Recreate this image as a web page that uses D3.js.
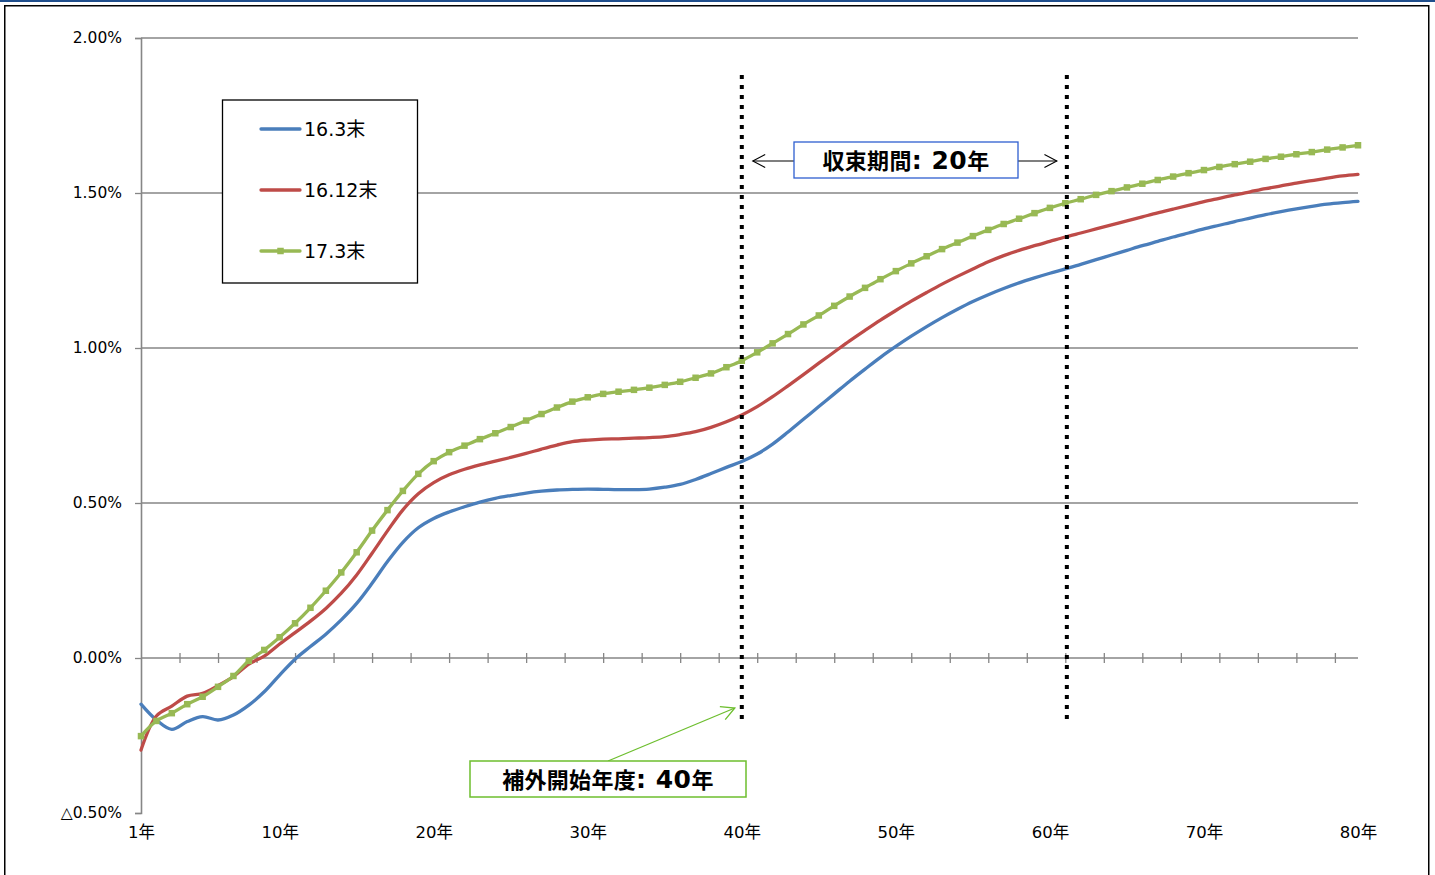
<!DOCTYPE html>
<html lang="ja">
<head>
<meta charset="utf-8">
<script src="https://cdn.jsdelivr.net/npm/d3@7"></script>
<style>
  html, body { margin: 0; padding: 0; background: #fff; }
  svg { display: block; }
</style>
</head>
<body>
<svg id="chart" width="1435" height="875"></svg>
<script>
// ---- data (percent) ----
const years = d3.range(1, 81);

const seriesNames = ["16.3末", "16.12末", "17.3末"];

const values163 = [
  -0.149, -0.200, -0.230, -0.205, -0.189, -0.200, -0.184, -0.152, -0.109, -0.055,
  -0.004, 0.037, 0.077, 0.123, 0.176, 0.241, 0.311, 0.373, 0.420, 0.450,
  0.471, 0.488, 0.503, 0.515, 0.524, 0.532, 0.538, 0.542, 0.544, 0.545,
  0.544, 0.543, 0.543, 0.545, 0.551, 0.560, 0.576, 0.595, 0.615, 0.634,
  0.658, 0.690, 0.729, 0.770, 0.811, 0.852, 0.893, 0.932, 0.970, 1.005,
  1.038, 1.069, 1.098, 1.125, 1.150, 1.172, 1.192, 1.210, 1.226, 1.241,
  1.255, 1.270, 1.285, 1.300, 1.315, 1.330, 1.344, 1.358, 1.371, 1.384,
  1.396, 1.408, 1.419, 1.430, 1.440, 1.449, 1.457, 1.464, 1.469, 1.473
];

const values1612 = [
  -0.297, -0.187, -0.155, -0.123, -0.114, -0.089, -0.060, -0.020, 0.006, 0.045,
  0.082, 0.119, 0.160, 0.209, 0.268, 0.338, 0.410, 0.478, 0.530, 0.566,
  0.591, 0.609, 0.623, 0.635, 0.647, 0.660, 0.674, 0.687, 0.698, 0.703,
  0.706, 0.707, 0.709, 0.711, 0.714, 0.721, 0.730, 0.744, 0.762, 0.784,
  0.811, 0.843, 0.878, 0.914, 0.951, 0.987, 1.023, 1.057, 1.090, 1.121,
  1.151, 1.179, 1.206, 1.231, 1.255, 1.278, 1.298, 1.315, 1.330, 1.344,
  1.358, 1.371, 1.384, 1.397, 1.410, 1.423, 1.436, 1.448, 1.460, 1.472,
  1.483, 1.494, 1.504, 1.514, 1.523, 1.532, 1.540, 1.548, 1.555, 1.560
];

const values173 = [
  -0.252, -0.203, -0.178, -0.149, -0.125, -0.093, -0.058, -0.009, 0.026, 0.067,
  0.112, 0.162, 0.217, 0.276, 0.341, 0.411, 0.477, 0.539, 0.594, 0.635,
  0.664, 0.685, 0.706, 0.725, 0.745, 0.766, 0.787, 0.808, 0.827, 0.841,
  0.852, 0.859, 0.865, 0.872, 0.881, 0.891, 0.904, 0.918, 0.938, 0.959,
  0.986, 1.015, 1.045, 1.076, 1.105, 1.136, 1.166, 1.194, 1.222, 1.248,
  1.273, 1.296, 1.319, 1.340, 1.361, 1.381, 1.400, 1.417, 1.435, 1.452,
  1.467, 1.480, 1.494, 1.506, 1.518, 1.530, 1.542, 1.553, 1.564, 1.574,
  1.584, 1.593, 1.601, 1.610, 1.617, 1.625, 1.632, 1.640, 1.647, 1.654
];

const seriesColors = ["#4A7EBB", "#BE4B48", "#98B954"];

const yTickValues = [-0.5, 0, 0.5, 1.0, 1.5, 2.0];
const yTickLabels = ["△0.50%", "0.00%", "0.50%", "1.00%", "1.50%", "2.00%"];
const gridValues = [0.5, 1.0, 1.5, 2.0];

const xLabelYears = [1, 10, 20, 30, 40, 50, 60, 70, 80];
const xLabelText = xLabelYears.map(n => n + "年");

// annotation years for the dotted markers
const extrapStartYear = 40;
const convergeEndYear = 61.1;
// label pieces: [text, isDigits]
const convergeLabel = [["収束期間", false], [": 20", true], ["年", false]];
const extrapLabel = [["補外開始年度", false], [": 40", true], ["年", false]];

// ---- layout ----
const svg = d3.select("#chart");
const plot = { left: 141, right: 1358, top: 38, bottom: 813 };
const x = d3.scaleLinear().domain([1, 80]).range([plot.left, plot.right]);
const y = d3.scaleLinear().domain([-0.5, 2.0]).range([plot.bottom, plot.top]);

const latinFont = "'DejaVu Sans', 'Noto Sans CJK JP', sans-serif";
const cjkFont = "'Noto Sans CJK JP', 'DejaVu Sans', sans-serif";
const axisGray = "#868686";

// top rule and outer frame
svg.append("rect").attr("x", 0).attr("y", 0).attr("width", 1435).attr("height", 2)
  .attr("fill", "#1F4E8C");
svg.append("rect").attr("x", 4.75).attr("y", 5.75).attr("width", 1424).attr("height", 900)
  .attr("fill", "none").attr("stroke", "#000").attr("stroke-width", 1.5);

// gridlines
svg.append("g").selectAll("line").data(gridValues).join("line")
  .attr("x1", plot.left).attr("x2", plot.right)
  .attr("y1", d => y(d)).attr("y2", d => y(d))
  .attr("stroke", axisGray).attr("stroke-width", 1.3);

// y axis
const yAxis = d3.axisLeft(y)
  .tickValues(yTickValues)
  .tickFormat((d, i) => yTickLabels[i])
  .tickSize(6).tickPadding(13);
const gy = svg.append("g").attr("transform", `translate(${plot.left},0)`).call(yAxis);
gy.select(".domain").attr("stroke", axisGray).attr("stroke-width", 1.6);
gy.selectAll(".tick line").attr("stroke", axisGray).attr("stroke-width", 1.3);
gy.selectAll(".tick text").attr("font-family", latinFont).attr("font-size", 15.5)
  .attr("fill", "#000");

// x axis line at zero with crossing tick marks
svg.append("line")
  .attr("x1", plot.left).attr("x2", plot.right)
  .attr("y1", y(0)).attr("y2", y(0))
  .attr("stroke", axisGray).attr("stroke-width", 1.6);
const minorTicks = d3.range(3.5, 80, 2.5);
const gxTicks = svg.append("g").attr("transform", `translate(0,${y(0) - 5})`)
  .call(d3.axisBottom(x).tickValues(minorTicks).tickSize(10).tickFormat(""));
gxTicks.select(".domain").remove();
gxTicks.selectAll(".tick line").attr("stroke", axisGray).attr("stroke-width", 1.3);

// x labels along the bottom
const gxLabels = svg.append("g").attr("transform", `translate(0,${plot.bottom})`)
  .call(d3.axisBottom(x).tickValues(xLabelYears)
    .tickFormat((d, i) => xLabelText[i]).tickSize(0).tickPadding(13));
gxLabels.select(".domain").remove();
gxLabels.selectAll(".tick text").attr("font-family", latinFont).attr("font-size", 16.5)
  .attr("fill", "#000");

// series
const series = [values163, values1612, values173].map((vals, i) => ({
  name: seriesNames[i],
  color: seriesColors[i],
  points: years.map((yr, j) => ({ year: yr, value: vals[j] }))
}));

const line = d3.line()
  .x(d => x(d.year))
  .y(d => y(d.value))
  .curve(d3.curveCatmullRom.alpha(0.5));

svg.append("g").selectAll("path").data(series).join("path")
  .attr("d", d => line(d.points))
  .attr("fill", "none")
  .attr("stroke", d => d.color)
  .attr("stroke-width", 3.3)
  .attr("stroke-linejoin", "round")
  .attr("stroke-linecap", "round");

// square markers on the 17.3末 series
const mk = 6.5;
svg.append("g").selectAll("rect").data(series[2].points).join("rect")
  .attr("x", d => x(d.year) - mk / 2)
  .attr("y", d => y(d.value) - mk / 2)
  .attr("width", mk).attr("height", mk)
  .attr("fill", seriesColors[2]);

// dotted vertical markers
const dotTop = 75, dotBottom = 725;
svg.append("g").selectAll("line").data([extrapStartYear, convergeEndYear]).join("line")
  .attr("x1", d => x(d)).attr("x2", d => x(d))
  .attr("y1", dotTop).attr("y2", dotBottom)
  .attr("stroke", "#000").attr("stroke-width", 4)
  .attr("stroke-dasharray", "4 6");

// open-headed arrow helper
function arrow(g, x1, y1, x2, y2, color, width, len) {
  g.append("line").attr("x1", x1).attr("y1", y1).attr("x2", x2).attr("y2", y2)
    .attr("stroke", color).attr("stroke-width", width);
  const ang = Math.atan2(y1 - y2, x1 - x2);
  const spread = Math.PI / 6.5;
  const p = [ang - spread, ang + spread].map(a => [x2 + len * Math.cos(a), y2 + len * Math.sin(a)]);
  g.append("path")
    .attr("d", `M${p[0][0]},${p[0][1]}L${x2},${y2}L${p[1][0]},${p[1][1]}`)
    .attr("fill", "none").attr("stroke", color).attr("stroke-width", width);
}

// bold label built from CJK and digit runs
function boldLabel(g, cx, cy, parts) {
  const t = g.append("text").attr("x", cx).attr("y", cy + 8.5)
    .attr("text-anchor", "middle").attr("font-weight", 700).attr("fill", "#000");
  parts.forEach(([str, digits]) => {
    t.append("tspan")
      .attr("font-family", digits ? latinFont : cjkFont)
      .attr("font-size", digits ? 25 : 22)
      .attr("letter-spacing", digits ? 0.5 : 0.3)
      .style("white-space", "pre")
      .text(str);
  });
}

// convergence period annotation
const ann = svg.append("g");
const boxL = 794, boxR = 1018, boxT = 142, boxB = 178;
const midY = (boxT + boxB) / 2 + 1;
arrow(ann, boxL, midY, x(extrapStartYear) + 11, midY, "#000", 1.1, 14);
arrow(ann, boxR, midY, x(convergeEndYear) - 10, midY, "#000", 1.1, 14);
ann.append("rect").attr("x", boxL).attr("y", boxT).attr("width", boxR - boxL).attr("height", boxB - boxT)
  .attr("fill", "#fff").attr("stroke", "#2E5FD0").attr("stroke-width", 1.3);
boldLabel(ann, (boxL + boxR) / 2, (boxT + boxB) / 2, convergeLabel);

// extrapolation start annotation
const ann2 = svg.append("g");
const gL = 470, gR = 746, gT = 761, gB = 797;
const green = "#6DBE2E";
arrow(ann2, 608, gT, x(extrapStartYear) - 7, 708, green, 1.3, 15);
ann2.append("rect").attr("x", gL).attr("y", gT).attr("width", gR - gL).attr("height", gB - gT)
  .attr("fill", "#fff").attr("stroke", green).attr("stroke-width", 1.5);
boldLabel(ann2, (gL + gR) / 2, (gT + gB) / 2, extrapLabel);

// legend
const leg = svg.append("g");
leg.append("rect").attr("x", 222.5).attr("y", 100).attr("width", 195).attr("height", 183)
  .attr("fill", "#fff").attr("stroke", "#000").attr("stroke-width", 1.3);
const legRows = [129, 190, 251];
series.forEach((s, i) => {
  const ly = legRows[i];
  leg.append("line").attr("x1", 261).attr("x2", 300).attr("y1", ly).attr("y2", ly)
    .attr("stroke", s.color).attr("stroke-width", 3.3).attr("stroke-linecap", "round");
  if (i === 2) {
    leg.append("rect").attr("x", 280.5 - mk / 2).attr("y", ly - mk / 2)
      .attr("width", mk).attr("height", mk).attr("fill", s.color);
  }
  leg.append("text").attr("x", 304).attr("y", ly)
    .attr("dominant-baseline", "central")
    .attr("font-family", latinFont).attr("font-size", 19).attr("fill", "#000")
    .text(s.name);
});
</script>
</body>
</html>
